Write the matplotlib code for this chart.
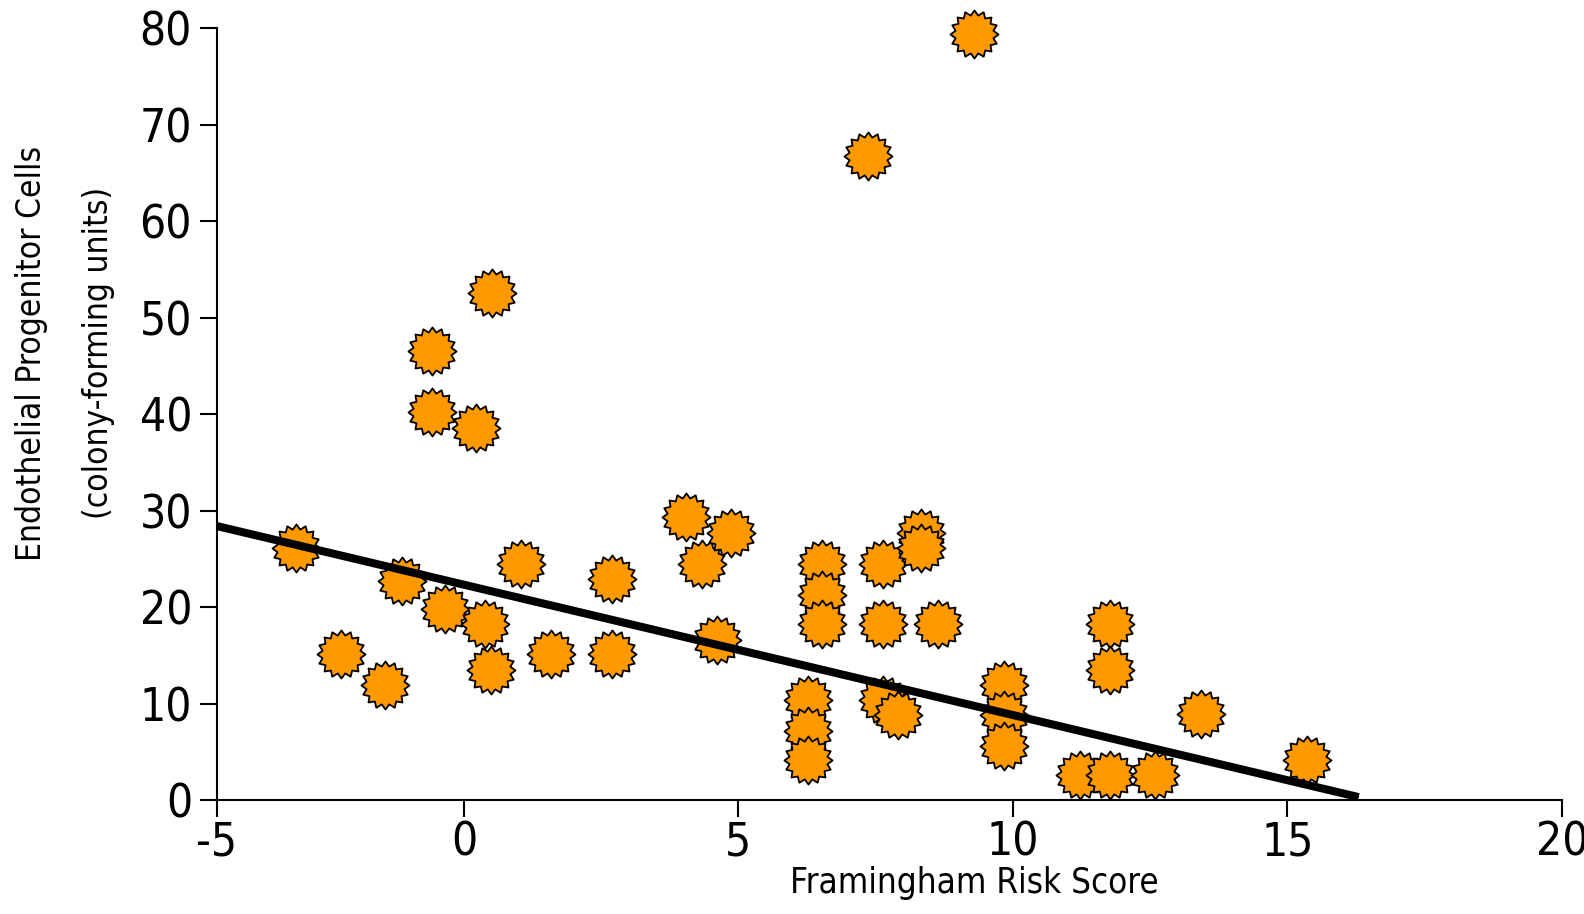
import matplotlib.pyplot as plt
import numpy as np
from matplotlib.path import Path

plt.rcParams['font.family'] = ['Liberation Sans Narrow', 'DejaVu Sans']
plt.rcParams['font.stretch'] = 'condensed'

# Framingham risk score vs EPC colony-forming units
risk_score = [9.29, 7.36, 0.51, -0.59, -0.59, 0.21, -3.07, -1.13, -2.25, -1.44,
              -0.34, 0.38, 0.49, 1.04, 1.59, 2.69, 2.69, 4.05, 4.33, 4.87,
              4.60, 6.26, 6.26, 6.26, 6.53, 6.53, 6.53, 7.64, 7.64, 7.64,
              7.91, 8.33, 8.33, 8.63, 9.84, 9.84, 9.84, 11.23, 11.77, 12.59,
              11.77, 11.77, 13.42, 15.35]
epc_cfu = [79.4, 66.8, 52.6, 46.5, 40.2, 38.6, 26.1, 22.7, 15.1, 11.9,
           19.8, 18.2, 13.5, 24.5, 15.1, 22.9, 15.1, 29.3, 24.5, 27.7,
           16.6, 10.4, 7.2, 4.1, 24.5, 21.3, 18.2, 24.5, 18.2, 10.4,
           8.8, 27.7, 26.1, 18.2, 11.9, 8.8, 5.6, 2.6, 2.6, 2.6,
           18.2, 13.5, 8.9, 4.2]

# regression line end points
fit_x = [-4.5, 16.3]
fit_y = [28.4, 0.3]

xtick_pos = [-4.5, 0, 5, 10, 15, 20]
xtick_labels = ['-5', '0', '5', '10', '15', '20']
ytick_pos = [0, 10, 20, 30, 40, 50, 60, 70, 80]

# star burst marker
star = Path.unit_regular_star(16, 0.8)

fig = plt.figure(figsize=(15.84, 9.14), dpi=100)
ax = fig.add_axes([0.137, 0.1247, 0.849, 0.8443])

ax.scatter(risk_score, epc_cfu, s=1200, marker=star, facecolor='#FF9900',
           edgecolor='black', linewidth=1.3, zorder=2, clip_on=False)
ax.plot(fit_x, fit_y, color='black', linewidth=5.8, solid_capstyle='butt', zorder=3)

ax.set_xlim(-4.5, 20)
ax.set_ylim(0, 80)
ax.set_xticks(xtick_pos)
ax.set_xticklabels(xtick_labels)
ax.set_yticks(ytick_pos)

for side in ['top', 'right']:
    ax.spines[side].set_visible(False)
for side in ['left', 'bottom']:
    ax.spines[side].set_linewidth(1.5)

ax.tick_params(axis='both', direction='out', length=12, width=1.5, labelsize=33)
ax.tick_params(axis='y', pad=6)
ax.tick_params(axis='x', pad=3)

ax.set_xlabel('Framingham Risk Score', fontsize=25)
ax.xaxis.set_label_coords(0.563, -0.086)

fig.text(0.0196, 0.613, 'Endothelial Progenitor Cells', rotation=90,
         fontsize=24, ha='center', va='center')
fig.text(0.0625, 0.614, '(colony-forming units)', rotation=90,
         fontsize=24, ha='center', va='center')

fig.savefig('out.png', dpi=100)
